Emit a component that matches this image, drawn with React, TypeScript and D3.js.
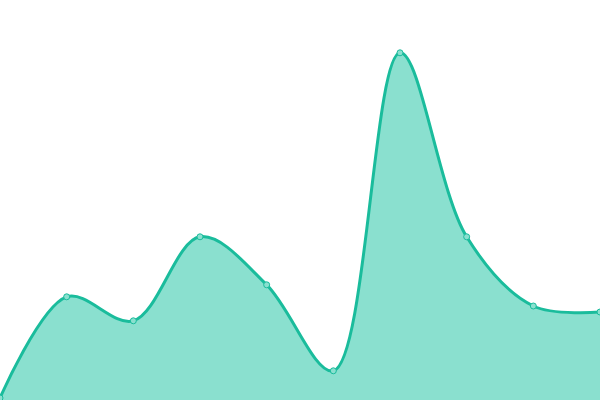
import { useEffect, useRef } from 'react';
import * as d3 from 'd3';

const categories = ['A', 'B', 'C', 'D', 'E', 'F', 'G', 'H', 'I', 'J'];
const values = [0.5, 25.8, 19.8, 40.8, 28.8, 7.3, 86.8, 40.8, 23.5, 22];

const svgWidth = 600;
const svgHeight = 400;

function App() {
  const ref = useRef(null);

  useEffect(() => {
    const svg = d3.select(ref.current);
    svg.selectAll('*').remove();

    // x spans the full width, one point per category
    const x = d3
      .scalePoint()
      .domain(categories)
      .range([0, svgWidth]);

    const y = d3.scaleLinear().domain([0, 100]).range([svgHeight, 0]);

    const data = categories.map((c, i) => ({ cat: c, value: values[i] }));

    const area = d3
      .area<{ cat: string; value: number }>()
      .x((d) => x(d.cat) as number)
      .y0(y(0))
      .y1((d) => y(d.value))
      .curve(d3.curveCatmullRom);

    const line = d3
      .line<{ cat: string; value: number }>()
      .x((d) => x(d.cat) as number)
      .y((d) => y(d.value))
      .curve(d3.curveCatmullRom);

    // Filled area
    svg
      .append('path')
      .datum(data)
      .attr('fill', '#8ae0cf')
      .attr('d', area);

    // Line on top
    svg
      .append('path')
      .datum(data)
      .attr('fill', 'none')
      .attr('stroke', '#1abc9c')
      .attr('stroke-width', 3)
      .attr('d', line);

    // Points
    svg
      .append('g')
      .selectAll('circle')
      .data(data)
      .join('circle')
      .attr('cx', (d) => x(d.cat) as number)
      .attr('cy', (d) => y(d.value))
      .attr('r', 3)
      .attr('fill', '#8ae0cf')
      .attr('stroke', '#1abc9c')
      .attr('stroke-width', 1);
  }, []);

  return (
    <svg
      ref={ref}
      width={svgWidth}
      height={svgHeight}
      style={{ position: 'absolute', left: 0, top: 0, background: '#fff' }}
    ></svg>
  );
}

export default App;
